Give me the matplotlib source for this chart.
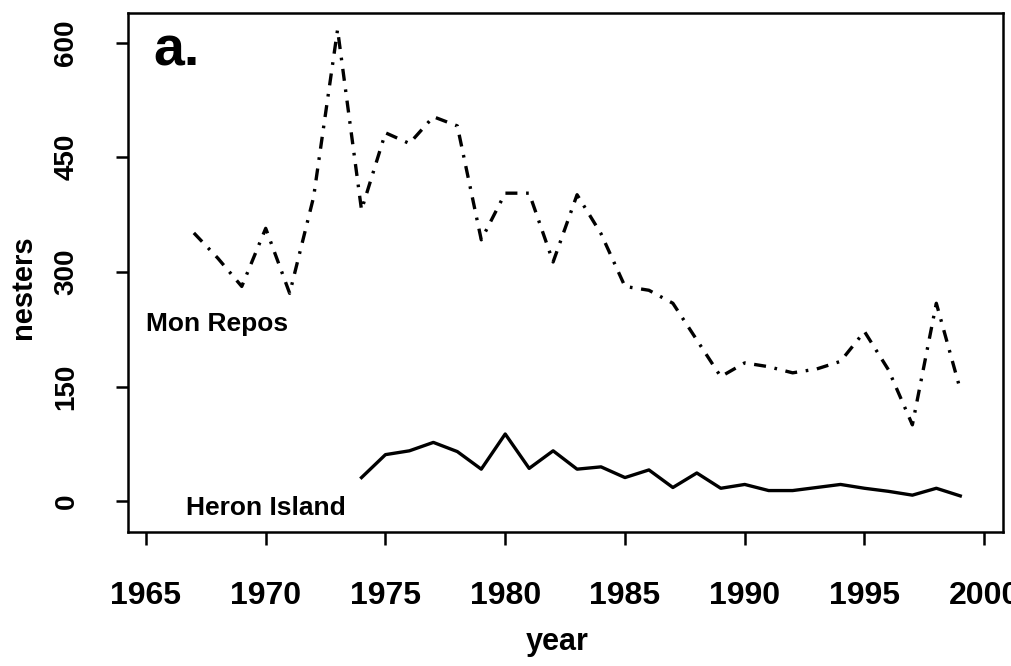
import matplotlib
matplotlib.use("Agg")
import matplotlib.pyplot as plt

# Data
years_mon = list(range(1967, 2000))
mon_repos = [351, 318, 281, 357, 272, 398, 617, 381, 482, 468, 503, 491,
             342, 403, 403, 313, 401, 350, 281, 276, 259, 211, 163, 181,
             176, 168, 173, 183, 222, 172, 100, 259, 146]

years_heron = list(range(1974, 2000))
heron_island = [31, 61, 66, 77, 65, 42, 88, 43, 66, 42, 45, 31, 41, 18,
                37, 17, 22, 14, 14, 18, 22, 17, 13, 8, 17, 7]

xticks = [1965, 1970, 1975, 1980, 1985, 1990, 1995, 2000]
yticks = [0, 150, 300, 450, 600]

plt.rcParams['font.family'] = ['Liberation Sans', 'DejaVu Sans']
plt.rcParams['font.weight'] = 'bold'

fig = plt.figure(figsize=(10.11, 6.66), dpi=100)
ax = fig.add_axes([0.1266, 0.2012, 0.8654, 0.7793])

ax.plot(years_mon, mon_repos, color='black', lw=2.4,
        dashes=(3.6, 2.6, 0.8, 2.6))
ax.plot(years_heron, heron_island, color='black', lw=2.4)

ax.set_xlim(1964.25, 2000.78)
ax.set_ylim(-40.2, 638.7)
ax.set_xticks(xticks)
ax.set_yticks(yticks)
ax.set_xticklabels([str(v) for v in xticks], fontsize=23, fontweight='bold')
ax.set_yticklabels([str(v) for v in yticks], fontsize=20, fontweight='bold',
                   rotation=90, va='center')

ax.tick_params(axis='both', direction='out', length=9, width=1.8, color='black')
ax.tick_params(axis='x', pad=26)
ax.tick_params(axis='y', pad=26)
for s in ax.spines.values():
    s.set_linewidth(1.8)
    s.set_color('black')

ax.text(1965.0, 232, 'Mon Repos', fontsize=19, fontweight='bold',
        ha='left', va='center')
ax.text(1966.67, -9, 'Heron Island', fontsize=19, fontweight='bold',
        ha='left', va='center')
ax.text(1965.3, 588, 'a.', fontsize=40, fontweight='bold',
        ha='left', va='center')

fig.text(0.551, 0.036, 'year', fontsize=22, fontweight='bold',
         ha='center', va='center')
fig.text(0.0228, 0.569, 'nesters', fontsize=21, fontweight='bold',
         ha='center', va='center', rotation=90)

fig.savefig('out.png', dpi=100)
